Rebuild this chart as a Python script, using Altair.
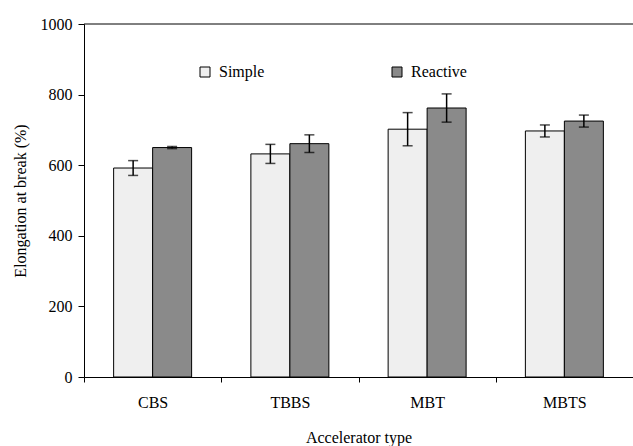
import altair as alt
import pandas as pd

categories = ["CBS", "TBBS", "MBT", "MBTS"]
series = ["Simple", "Reactive"]
simple_vals = [592, 632, 702, 697]
simple_err = [21, 27, 47, 17]
reactive_vals = [650, 661, 762, 725]
reactive_err = [3, 25, 40, 17]
y_ticks = [0, 200, 400, 600, 800, 1000]

rows = []
for i, c in enumerate(categories):
    rows.append({"cat": c, "type": "Simple", "val": simple_vals[i], "err": simple_err[i]})
    rows.append({"cat": c, "type": "Reactive", "val": reactive_vals[i], "err": reactive_err[i]})
df = pd.DataFrame(rows)
df["lo"] = df["val"] - df["err"]
df["hi"] = df["val"] + df["err"]

FONT = "Liberation Serif"
W, H = 549, 353

x_enc = alt.X(
    "cat:N",
    sort=categories,
    scale=alt.Scale(paddingInner=0, paddingOuter=0),
    axis=alt.Axis(
        title="Accelerator type",
        labelAngle=0,
        tickBand="extent",
        tickSize=5,
        labelPadding=12,
        titleY=60,
        titleBaseline="middle",
        labelFont=FONT,
        titleFont=FONT,
    ),
)
xoff = alt.XOffset("type:N", sort=series, scale=alt.Scale(paddingOuter=0.76, paddingInner=0))

base = alt.Chart(df)

bars = base.mark_bar(stroke="black", strokeWidth=1).encode(
    x=x_enc,
    xOffset=xoff,
    y=alt.Y(
        "val:Q",
        scale=alt.Scale(domain=[0, 1000], nice=False),
        axis=alt.Axis(
            title="Elongation at break (%)",
            values=y_ticks,
            format="d",
            tickSize=6,
            labelPadding=6,
            titleX=-64,
            titleY=H / 2,
            titleBaseline="middle",
            titleAlign="center",
            labelFont=FONT,
            titleFont=FONT,
        ),
    ),
    color=alt.Color(
        "type:N",
        sort=series,
        scale=alt.Scale(domain=series, range=["#efefef", "#8a8a8a"]),
        legend=alt.Legend(
            title=None,
            orient="none",
            direction="horizontal",
            legendX=113,
            legendY=40,
            symbolType="square",
            symbolSize=100,
            symbolStrokeColor="black",
            symbolStrokeWidth=1,
            columnPadding=124,
            labelOffset=6,
            labelFont=FONT,
            labelFontSize=16,
            labelColor="black",
        ),
    ),
)

err_line = base.mark_rule(color="black", strokeWidth=1.5).encode(
    x=alt.X("cat:N", sort=categories),
    xOffset=xoff,
    y="lo:Q",
    y2="hi:Q",
)
cap_lo = base.mark_tick(color="black", thickness=1.5, size=10, orient="horizontal").encode(
    x=alt.X("cat:N", sort=categories),
    xOffset=xoff,
    y="lo:Q",
)
cap_hi = base.mark_tick(color="black", thickness=1.5, size=10, orient="horizontal").encode(
    x=alt.X("cat:N", sort=categories),
    xOffset=xoff,
    y="hi:Q",
)
top_rule = alt.Chart(pd.DataFrame({"top": [1000]})).mark_rule(color="black", strokeWidth=1).encode(
    y=alt.Y("top:Q")
)

chart = (
    alt.layer(bars, err_line, cap_lo, cap_hi, top_rule)
    .properties(
        width=W,
        height=H,
        autosize=alt.AutoSizeParams(type="none"),
        padding={"left": 84, "top": 24, "right": 0, "bottom": 69},
        background="white",
    )
    .configure_view(stroke=None)
    .configure_axis(
        labelFont=FONT,
        titleFont=FONT,
        labelFontSize=16,
        titleFontSize=16,
        titleFontWeight="normal",
        labelColor="black",
        titleColor="black",
        domainColor="black",
        tickColor="black",
        domainWidth=1,
        tickWidth=1,
        grid=False,
    )
    .configure_legend(labelFont=FONT, labelFontSize=16, labelColor="black")
)

chart.save("out.html", embed_options={"renderer": "svg", "actions": False})
